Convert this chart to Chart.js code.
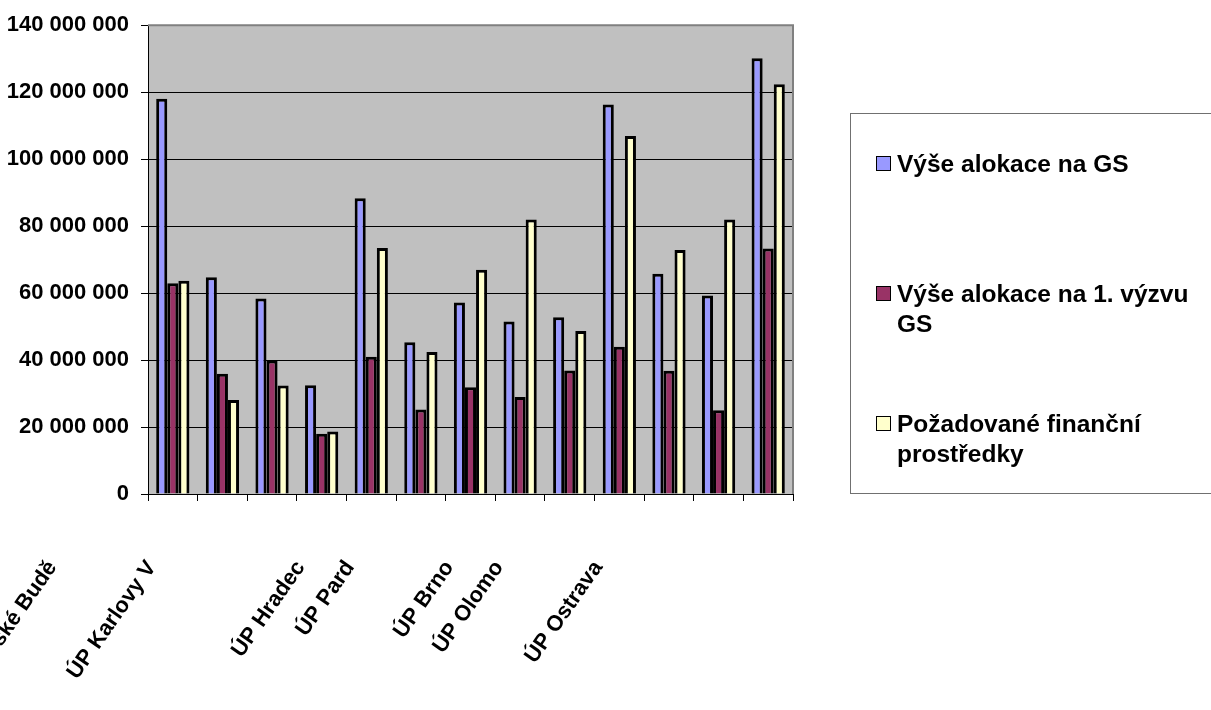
<!DOCTYPE html>
<html>
<head>
<meta charset="utf-8">
<script src="https://cdn.jsdelivr.net/npm/chart.js@4"></script>
<style>
  html, body { margin: 0; padding: 0; background: #fff; }
  #wrap { position: relative; width: 1211px; height: 710px; overflow: hidden; }
  #legend {
    position: absolute; left: 850px; top: 113px; width: 380px; height: 381px;
    border: 1px solid #707070; box-sizing: border-box;
    font-family: "Liberation Sans", Arial, sans-serif; font-weight: bold; font-size: 24.5px; line-height: 30px; color: #000;
  }
  .item { position: absolute; left: 46px; }
  .item .box { position: absolute; left: -21px; top: 7px; width: 13px; height: 13px; border: 1.5px solid #000; }
</style>
</head>
<body>
<div id="wrap">
  <canvas id="c" width="1211" height="710"></canvas>
  <div id="legend"></div>
</div>
<script>
// categories (regional labour offices) and the label text that is visible under the axis
const categories = ['ÚP Kladno', 'ÚP České Budějovice', 'ÚP Plzeň', 'ÚP Karlovy Vary', 'ÚP Ústí nad Labem',
  'ÚP Liberec', 'ÚP Hradec Králové', 'ÚP Pardubice', 'ÚP Jihlava', 'ÚP Brno', 'ÚP Olomouc', 'ÚP Zlín', 'ÚP Ostrava'];
const shownLabels = ['', 'ÚP České Budě', '', 'ÚP Karlovy V', '', '', 'ÚP Hradec', 'ÚP Pard', '', 'ÚP Brno', 'ÚP Olomo', '', 'ÚP Ostrava'];

const alokaceGS = [118000000, 64700000, 58400000, 32500000, 88300000, 45300000, 57200000,
  51500000, 52800000, 116300000, 65800000, 59300000, 130100000];
const alokaceVyzva1 = [62900000, 35900000, 39900000, 18000000, 41000000, 25200000, 31900000,
  29000000, 36900000, 44000000, 36800000, 25000000, 73300000];
const pozadovane = [63700000, 28100000, 32400000, 18700000, 73500000, 42400000, 67000000,
  82000000, 48700000, 106900000, 72900000, 82000000, 122400000];

const seriesNames = [['Výše alokace na GS'], ['Výše alokace na 1. výzvu', 'GS'], ['Požadované finanční', 'prostředky']];
const seriesColors = ['#9999FF', '#993366', '#FFFFCC'];

const font = { family: '"Liberation Sans", Arial, sans-serif', weight: 'bold', size: 22 };

function fmt(v) {
  return String(v).replace(/\B(?=(\d{3})+(?!\d))/g, ' ');
}

// grey plot area with a grey frame on top and right
const plotArea = {
  id: 'plotArea',
  beforeDraw(chart) {
    const a = chart.chartArea, ctx = chart.ctx;
    ctx.save();
    ctx.fillStyle = '#C0C0C0';
    ctx.fillRect(a.left, a.top, a.right - a.left, a.bottom - a.top);
    ctx.restore();
  },
  afterDraw(chart) {
    const a = chart.chartArea, ctx = chart.ctx;
    ctx.save();
    ctx.strokeStyle = '#808080';
    ctx.lineWidth = 2;
    ctx.beginPath();
    ctx.moveTo(a.left, a.top);
    ctx.lineTo(a.right, a.top);
    ctx.lineTo(a.right, a.bottom);
    ctx.stroke();
    ctx.restore();
  }
};

new Chart(document.getElementById('c'), {
  type: 'bar',
  data: {
    labels: categories,
    datasets: [alokaceGS, alokaceVyzva1, pozadovane].map((d, i) => ({
      label: seriesNames[i].join(' '),
      data: d,
      backgroundColor: seriesColors[i],
      borderColor: '#000',
      borderWidth: 3,
      categoryPercentage: 0.67,
      barPercentage: 1.0
    }))
  },
  options: {
    responsive: false,
    animation: false,
    layout: { padding: { top: 12, right: 418, left: 0, bottom: 0 } },
    plugins: { legend: { display: false }, tooltip: { enabled: false } },
    scales: {
      y: {
        min: 0, max: 140000000,
        afterFit(s) { s.width = 148; },
        ticks: { stepSize: 20000000, color: '#000', font: font, padding: 12, callback: v => fmt(v) },
        grid: {
          color: c => c.tick && c.tick.value === 140000000 ? '#808080' : '#000',
          tickColor: '#000', tickLength: 7, lineWidth: 1
        },
        border: { color: '#000', width: 1 }
      },
      x: {
        afterFit(s) { s.height = 216; },
        ticks: {
          color: '#000', font: font, minRotation: 55, maxRotation: 55, autoSkip: false,
          padding: 55, labelOffset: -170,
          callback: (v, i) => shownLabels[i]
        },
        grid: { drawOnChartArea: false, color: '#000', tickLength: 7 },
        border: { color: '#000', width: 1 }
      }
    }
  },
  plugins: [plotArea]
});

// legend box on the right
const legend = document.getElementById('legend');
const itemTops = [35, 165, 295];
seriesNames.forEach((lines, i) => {
  const el = document.createElement('div');
  el.className = 'item';
  el.style.top = itemTops[i] + 'px';
  el.innerHTML = '<span class="box" style="background:' + seriesColors[i] + '"></span>' + lines.join('<br>');
  legend.appendChild(el);
});
</script>
</body>
</html>
